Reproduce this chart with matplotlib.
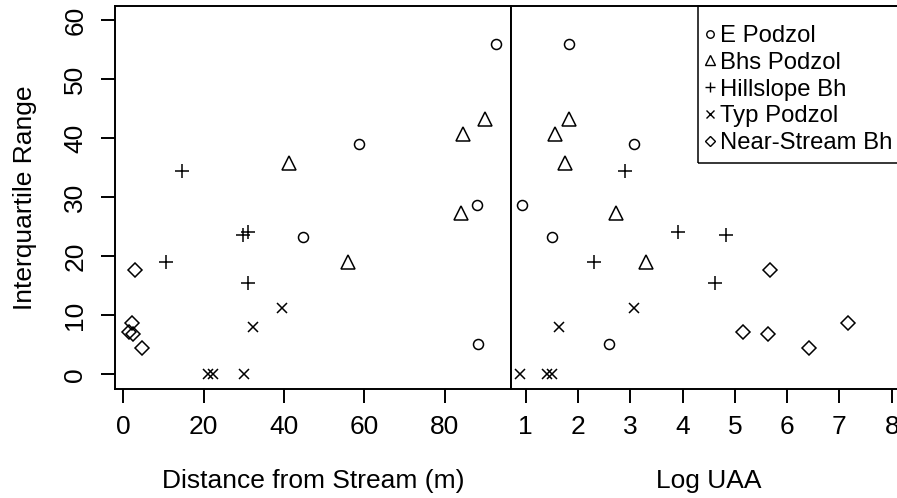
import numpy as np
import matplotlib.pyplot as plt
from matplotlib.patches import Rectangle
from matplotlib.lines import Line2D

plt.rcParams['font.family'] = ['Liberation Sans', 'DejaVu Sans']

# soil groups: interquartile range vs distance from stream and log upslope area
groups = ['E Podzol', 'Bhs Podzol', 'Hillslope Bh', 'Typ Podzol', 'Near-Stream Bh']

iqr_e = [55.9, 39.0, 28.7, 23.3, 5.1]
dist_e = [92.7, 58.7, 88.0, 44.8, 88.3]
uaa_e = [1.83, 3.08, 0.93, 1.50, 2.60]

iqr_bhs = [43.2, 40.7, 35.8, 27.3, 19.1]
dist_bhs = [89.9, 84.5, 41.2, 83.9, 56.0]
uaa_bhs = [1.83, 1.57, 1.75, 2.73, 3.31]

iqr_hill = [34.5, 24.1, 23.6, 19.1, 15.4]
dist_hill = [14.6, 31.1, 29.7, 10.7, 31.1]
uaa_hill = [2.90, 3.92, 4.83, 2.31, 4.62]

iqr_typ = [11.3, 8.0, 0.0, 0.0, 0.0]
dist_typ = [39.4, 32.4, 21.0, 22.4, 30.1]
uaa_typ = [3.07, 1.64, 0.90, 1.40, 1.50]

iqr_near = [17.7, 8.7, 7.2, 6.8, 4.4]
dist_near = [3.0, 2.3, 1.6, 2.6, 4.6]
uaa_near = [5.68, 7.17, 5.16, 5.64, 6.42]

y_ticks = [0, 10, 20, 30, 40, 50, 60]
dist_ticks = [0, 20, 40, 60, 80]
uaa_ticks = [1, 2, 3, 4, 5, 6, 7, 8]

series = [
    (iqr_e, dist_e, uaa_e, 'o', 7.2),
    (iqr_bhs, dist_bhs, uaa_bhs, '^', 9.5),
    (iqr_hill, dist_hill, uaa_hill, '+', 9.5),
    (iqr_typ, dist_typ, uaa_typ, 'x', 7.0),
    (iqr_near, dist_near, uaa_near, 'D', 7.4),
]

W, H = 897, 498
fig = plt.figure(figsize=(W / 100, H / 100), dpi=100)
ax1 = fig.add_axes([115 / W, 1 - 388.5 / H, (511 - 115) / W, (388.5 - 6) / H])
ax2 = fig.add_axes([511 / W, 1 - 388.5 / H, (906.4 - 511) / W, (388.5 - 6) / H])

FS = 19
LW = 1.4

for iqr, dist, uaa, m, ms in series:
    ax1.plot(dist, iqr, linestyle='none', marker=m, ms=ms, mfc='none',
             mec='black', mew=1.1, clip_on=False)
    ax2.plot(uaa, iqr, linestyle='none', marker=m, ms=ms, mfc='none',
             mec='black', mew=1.1, clip_on=False)

ax1.set_xlim(-1.99, 96.4)
ax2.set_xlim(0.72, 8.28)
for ax in (ax1, ax2):
    ax.set_ylim(-2.4, 62.4)
    for sp in ax.spines.values():
        sp.set_linewidth(LW)
    ax.tick_params(axis='both', length=10, width=LW, labelsize=FS, pad=9)
ax1.tick_params(axis='y', pad=10)

ax1.set_yticks(y_ticks)
ax1.set_yticklabels([str(v) for v in y_ticks], rotation=90, va='center')
ax1.set_xticks(dist_ticks)
ax2.set_xticks(uaa_ticks)
ax2.set_yticks([])

ax1.set_ylabel('Interquartile Range', fontsize=FS, labelpad=19)
ax1.set_xlabel('Distance from Stream (m)', fontsize=FS, labelpad=22)
ax2.set_xlabel('Log UAA', fontsize=FS, labelpad=22)

# legend box pinned to the top of the right panel
handles = [Line2D([], [], linestyle='none', marker=m, ms=ms * 0.75, mfc='none',
                  mec='black', mew=1.0) for _, _, _, m, ms in series]
fig.legend(handles, groups, loc='upper left',
           bbox_to_anchor=(705 / W, 1 - 25 / H), frameon=False,
           fontsize=17.2, handlelength=0.45, handletextpad=0.16,
           labelspacing=0.2, borderpad=0, borderaxespad=0)
fig.patches.append(Rectangle((698 / W, 1 - 163 / H), 0.3, (163 - 6) / H,
                             transform=fig.transFigure, fill=False,
                             edgecolor='black', linewidth=1.1))

fig.savefig('out.png', dpi=100)
